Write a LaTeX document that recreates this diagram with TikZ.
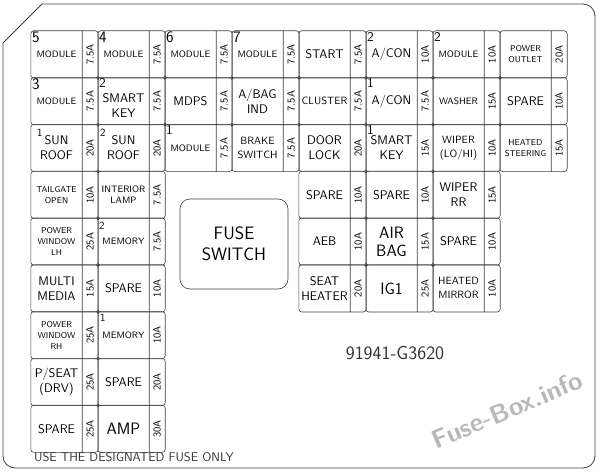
\documentclass[tikz,border=0pt]{standalone}
\usepackage{tikz}

\begin{document}
\begin{tikzpicture}[x=1pt,y=-1pt]
  \def\f{67}
  \def\fy{46.8}

\tikzstyle{cell}=[draw=black!75,line width=0.6pt,rounded corners=3pt]
\tikzstyle{fuse}=[minimum width=51pt,minimum height=\fy pt,inner sep=0pt,align=center,font=\sffamily\fontsize{9.3}{11}\selectfont]
\tikzstyle{smalltxt}=[font=\sffamily\fontsize{8.5}{11}\selectfont]
\tikzstyle{midtxt}=[font=\sffamily\fontsize{10.5}{14}\selectfont]
\tikzstyle{bigtxt}=[font=\sffamily\fontsize{12.5}{15}\selectfont]
\tikzstyle{hugetxt}=[font=\sffamily\fontsize{16.5}{18}\selectfont]
\tikzstyle{amp}=[rotate=90,inner sep=0pt,font=\sffamily\fontsize{10.5}{10.5}\selectfont]
\tikzstyle{num}=[anchor=north west,inner sep=1pt,font=\sffamily\fontsize{13.5}{13.5}\selectfont]
\tikzstyle{numbig}=[anchor=north west,inner sep=1pt,font=\sffamily\fontsize{16}{16}\selectfont]
\tikzstyle{numsm}=[anchor=north west,inner sep=1pt,font=\sffamily\fontsize{11}{11}\selectfont]
\tikzstyle{dot}=[fill=black!75]
\tikzstyle{frame}=[draw=black!75,line width=0.8pt]

\useasboundingbox (0,0) rectangle (600,473);
\draw[frame] (3,43) -- (42,4) -- (583,4) to[out=0,in=90] (595,16) -- (595,456)
  to[out=-90,in=0] (583,468) -- (15,468) to[out=180,in=-90] (3,456) -- cycle;

\node[fuse][] (F1) at (56.5+0*\f,54.4+0*\fy) {MODULE};
\node[numbig] (N1) at (F1.north west) {5};
\node[amp] (R1) at ([xshift=8pt]F1.east) {7.5A};
\draw[cell] (F1.north west) rectangle ([xshift=16pt]F1.south east) (F1.north east) -- (F1.south east);
\node[fuse][] (F2) at (56.5+1*\f,54.4+0*\fy) {MODULE};
\node[numbig] (N2) at (F2.north west) {4};
\node[amp] (R2) at ([xshift=8pt]F2.east) {7.5A};
\draw[cell] (F2.north west) rectangle ([xshift=16pt]F2.south east) (F2.north east) -- (F2.south east);
\node[fuse][] (F3) at (56.5+2*\f,54.4+0*\fy) {MODULE};
\node[numbig] (N3) at (F3.north west) {6};
\node[amp] (R3) at ([xshift=8pt]F3.east) {7.5A};
\draw[cell] (F3.north west) rectangle ([xshift=16pt]F3.south east) (F3.north east) -- (F3.south east);
\node[fuse][] (F4) at (56.5+3*\f,54.4+0*\fy) {MODULE};
\node[numbig] (N4) at (F4.north west) {7};
\node[amp] (R4) at ([xshift=8pt]F4.east) {7.5A};
\draw[cell] (F4.north west) rectangle ([xshift=16pt]F4.south east) (F4.north east) -- (F4.south east);
\node[fuse][bigtxt] (F5) at (56.5+4*\f,54.4+0*\fy) {START};
\node[amp] (R5) at ([xshift=8pt]F5.east) {7.5A};
\draw[cell] (F5.north west) rectangle ([xshift=16pt]F5.south east) (F5.north east) -- (F5.south east);
\node[fuse][bigtxt] (F6) at (56.5+5*\f,54.4+0*\fy) {A/CON};
\node[num] (N6) at (F6.north west) {2};
\node[amp] (R6) at ([xshift=8pt]F6.east) {10A};
\draw[cell] (F6.north west) rectangle ([xshift=16pt]F6.south east) (F6.north east) -- (F6.south east);
\node[fuse][] (F7) at (56.5+6*\f,54.4+0*\fy) {MODULE};
\node[num] (N7) at (F7.north west) {2};
\node[amp] (R7) at ([xshift=8pt]F7.east) {10A};
\draw[cell] (F7.north west) rectangle ([xshift=16pt]F7.south east) (F7.north east) -- (F7.south east);
\node[fuse][smalltxt] (F8) at (56.5+7*\f,54.4+0*\fy) {POWER\\OUTLET};
\node[amp] (R8) at ([xshift=8pt]F8.east) {20A};
\draw[cell] (F8.north west) rectangle ([xshift=16pt]F8.south east) (F8.north east) -- (F8.south east);

\node[fuse][] (F9) at (56.5+0*\f,54.4+1*\fy) {MODULE};
\node[numbig] (N9) at (F9.north west) {3};
\node[amp] (R9) at ([xshift=8pt]F9.east) {7.5A};
\draw[cell] (F9.north west) rectangle ([xshift=16pt]F9.south east) (F9.north east) -- (F9.south east);
\node[fuse][bigtxt] (F10) at (56.5+1*\f,58.4+1*\fy) {SMART\\KEY};
\node[num] (N10) at ([yshift=4pt]F10.north west) {2};
\node[amp] (R10) at ([xshift=8pt,yshift=4pt]F10.east) {7.5A};
\draw[cell] ([yshift=4pt]F10.north west) rectangle ([xshift=16pt,yshift=4pt]F10.south east) ([yshift=4pt]F10.north east) -- ([yshift=4pt]F10.south east);
\node[fuse][bigtxt] (F11) at (56.5+2*\f,54.4+1*\fy) {MDPS};
\node[amp] (R11) at ([xshift=8pt]F11.east) {7.5A};
\draw[cell] (F11.north west) rectangle ([xshift=16pt]F11.south east) (F11.north east) -- (F11.south east);
\node[fuse][bigtxt] (F12) at (56.5+3*\f,54.4+1*\fy) {A/BAG\\IND};
\node[amp] (R12) at ([xshift=8pt]F12.east) {7.5A};
\draw[cell] (F12.north west) rectangle ([xshift=16pt]F12.south east) (F12.north east) -- (F12.south east);
\node[fuse][midtxt] (F13) at (56.5+4*\f,54.4+1*\fy) {CLUSTER};
\node[amp] (R13) at ([xshift=8pt]F13.east) {7.5A};
\draw[cell] (F13.north west) rectangle ([xshift=16pt]F13.south east) (F13.north east) -- (F13.south east);
\node[fuse][bigtxt] (F14) at (56.5+5*\f,54.4+1*\fy) {A/CON};
\node[num] (N14) at (F14.north west) {1};
\node[amp] (R14) at ([xshift=8pt]F14.east) {7.5A};
\draw[cell] (F14.north west) rectangle ([xshift=16pt]F14.south east) (F14.north east) -- (F14.south east);
\node[fuse][] (F15) at (56.5+6*\f,54.4+1*\fy) {WASHER};
\node[amp] (R15) at ([xshift=8pt]F15.east) {15A};
\draw[cell] (F15.north west) rectangle ([xshift=16pt]F15.south east) (F15.north east) -- (F15.south east);
\node[fuse][bigtxt] (F16) at (56.5+7*\f,54.4+1*\fy) {SPARE};
\node[amp] (R16) at ([xshift=8pt]F16.east) {10A};
\draw[cell] (F16.north west) rectangle ([xshift=16pt]F16.south east) (F16.north east) -- (F16.south east);

\node[fuse][bigtxt] (F17) at (56.5+0*\f,54.4+2*\fy) {SUN\\ROOF};
\node[numsm] (N17) at ([xshift=5pt,yshift=-3pt]F17.north west) {1};
\node[amp] (R17) at ([xshift=8pt]F17.east) {20A};
\draw[cell] (F17.north west) rectangle ([xshift=16pt]F17.south east) (F17.north east) -- (F17.south east);
\node[fuse][bigtxt] (F18) at (56.5+1*\f,54.4+2*\fy) {SUN\\ROOF};
\node[numsm] (N18) at ([xshift=1pt,yshift=-3pt]F18.north west) {2};
\node[amp] (R18) at ([xshift=8pt]F18.east) {20A};
\draw[cell] (F18.north west) rectangle ([xshift=16pt]F18.south east) (F18.north east) -- (F18.south east);
\node[fuse][] (F19) at (56.5+2*\f,54.4+2*\fy) {MODULE};
\node[num] (N19) at (F19.north west) {1};
\node[amp] (R19) at ([xshift=8pt]F19.east) {7.5A};
\draw[cell] (F19.north west) rectangle ([xshift=16pt]F19.south east) (F19.north east) -- (F19.south east);
\node[fuse][midtxt] (F20) at (56.5+3*\f,54.4+2*\fy) {BRAKE\\SWITCH};
\node[amp] (R20) at ([xshift=8pt]F20.east) {7.5A};
\draw[cell] (F20.north west) rectangle ([xshift=16pt]F20.south east) (F20.north east) -- (F20.south east);
\node[fuse][bigtxt] (F21) at (56.5+4*\f,54.4+2*\fy) {DOOR\\LOCK};
\node[amp] (R21) at ([xshift=8pt]F21.east) {20A};
\draw[cell] (F21.north west) rectangle ([xshift=16pt]F21.south east) (F21.north east) -- (F21.south east);
\node[fuse][bigtxt] (F22) at (56.5+5*\f,54.4+2*\fy) {SMART\\KEY};
\node[num] (N22) at (F22.north west) {1};
\node[amp] (R22) at ([xshift=8pt]F22.east) {15A};
\draw[cell] (F22.north west) rectangle ([xshift=16pt]F22.south east) (F22.north east) -- (F22.south east);
\node[fuse][midtxt] (F23) at (56.5+6*\f,54.4+2*\fy) {WIPER\\(LO/HI)};
\node[amp] (R23) at ([xshift=8pt]F23.east) {10A};
\draw[cell] (F23.north west) rectangle ([xshift=16pt]F23.south east) (F23.north east) -- (F23.south east);
\node[fuse][smalltxt] (F24) at (56.5+7*\f,54.4+2*\fy) {HEATED\\STEERING};
\node[amp] (R24) at ([xshift=8pt]F24.east) {15A};
\draw[cell] (F24.north west) rectangle ([xshift=16pt]F24.south east) (F24.north east) -- (F24.south east);

\node[fuse][smalltxt] (F25) at (56.5+0*\f,54.4+3*\fy) {TAILGATE\\OPEN};
\node[amp] (R25) at ([xshift=8pt]F25.east) {10A};
\draw[cell] (F25.north west) rectangle ([xshift=16pt]F25.south east) (F25.north east) -- (F25.south east);
\node[fuse][] (F26) at (56.5+1*\f,54.4+3*\fy) {INTERIOR\\LAMP};
\node[amp] (R26) at ([xshift=8pt]F26.east) {7.5A};
\draw[cell] (F26.north west) rectangle ([xshift=16pt]F26.south east) (F26.north east) -- (F26.south east);
\node[fuse][bigtxt] (F27) at (56.5+4*\f,54.4+3*\fy) {SPARE};
\node[amp] (R27) at ([xshift=8pt]F27.east) {10A};
\draw[cell] (F27.north west) rectangle ([xshift=16pt]F27.south east) (F27.north east) -- (F27.south east);
\node[fuse][bigtxt] (F28) at (56.5+5*\f,54.4+3*\fy) {SPARE};
\node[amp] (R28) at ([xshift=8pt]F28.east) {10A};
\draw[cell] (F28.north west) rectangle ([xshift=16pt]F28.south east) (F28.north east) -- (F28.south east);
\node[fuse][bigtxt] (F29) at (56.5+6*\f,54.4+3*\fy) {WIPER\\RR};
\node[amp] (R29) at ([xshift=8pt]F29.east) {15A};
\draw[cell] (F29.north west) rectangle ([xshift=16pt]F29.south east) (F29.north east) -- (F29.south east);

\node[fuse][smalltxt] (F30) at (56.5+0*\f,54.4+4*\fy) {POWER\\WINDOW\\LH};
\node[amp] (R30) at ([xshift=8pt]F30.east) {25A};
\draw[cell] (F30.north west) rectangle ([xshift=16pt]F30.south east) (F30.north east) -- (F30.south east);
\node[fuse][] (F31) at (56.5+1*\f,54.4+4*\fy) {MEMORY};
\node[numsm] (N31) at ([yshift=-3pt]F31.north west) {2};
\node[amp] (R31) at ([xshift=8pt]F31.east) {7.5A};
\draw[cell] (F31.north west) rectangle ([xshift=16pt]F31.south east) (F31.north east) -- (F31.south east);
\node[fuse][bigtxt] (F32) at (56.5+4*\f,54.4+4*\fy) {AEB};
\node[amp] (R32) at ([xshift=8pt]F32.east) {10A};
\draw[cell] (F32.north west) rectangle ([xshift=16pt]F32.south east) (F32.north east) -- (F32.south east);
\node[fuse][hugetxt] (F33) at (56.5+5*\f,54.4+4*\fy) {AIR\\BAG};
\node[amp] (R33) at ([xshift=8pt]F33.east) {15A};
\draw[cell] (F33.north west) rectangle ([xshift=16pt]F33.south east) (F33.north east) -- (F33.south east);
\node[fuse][bigtxt] (F34) at (56.5+6*\f,54.4+4*\fy) {SPARE};
\node[amp] (R34) at ([xshift=8pt]F34.east) {10A};
\draw[cell] (F34.north west) rectangle ([xshift=16pt]F34.south east) (F34.north east) -- (F34.south east);

\node[fuse][bigtxt] (F35) at (56.5+0*\f,54.4+5*\fy) {MULTI\\MEDIA};
\node[amp] (R35) at ([xshift=8pt]F35.east) {15A};
\draw[cell] (F35.north west) rectangle ([xshift=16pt]F35.south east) (F35.north east) -- (F35.south east);
\node[fuse][bigtxt] (F36) at (56.5+1*\f,54.4+5*\fy) {SPARE};
\node[amp] (R36) at ([xshift=8pt]F36.east) {10A};
\draw[cell] (F36.north west) rectangle ([xshift=16pt]F36.south east) (F36.north east) -- (F36.south east);
\node[fuse][bigtxt] (F37) at (56.5+4*\f,54.4+5*\fy) {SEAT\\HEATER};
\node[amp] (R37) at ([xshift=8pt]F37.east) {20A};
\draw[cell] (F37.north west) rectangle ([xshift=16pt]F37.south east) (F37.north east) -- (F37.south east);
\node[fuse][hugetxt] (F38) at (56.5+5*\f,54.4+5*\fy) {IG1};
\node[amp] (R38) at ([xshift=8pt]F38.east) {25A};
\draw[cell] (F38.north west) rectangle ([xshift=16pt]F38.south east) (F38.north east) -- (F38.south east);
\node[fuse][midtxt] (F39) at (56.5+6*\f,54.4+5*\fy) {HEATED\\MIRROR};
\node[amp] (R39) at ([xshift=8pt]F39.east) {10A};
\draw[cell] (F39.north west) rectangle ([xshift=16pt]F39.south east) (F39.north east) -- (F39.south east);

\node[fuse][smalltxt] (F40) at (56.5+0*\f,54.4+6*\fy) {POWER\\WINDOW\\RH};
\node[amp] (R40) at ([xshift=8pt]F40.east) {25A};
\draw[cell] (F40.north west) rectangle ([xshift=16pt]F40.south east) (F40.north east) -- (F40.south east);
\node[fuse][] (F41) at (56.5+1*\f,54.4+6*\fy) {MEMORY};
\node[numsm] (N41) at ([xshift=1pt,yshift=-1pt]F41.north west) {1};
\node[amp] (R41) at ([xshift=8pt]F41.east) {10A};
\draw[cell] (F41.north west) rectangle ([xshift=16pt]F41.south east) (F41.north east) -- (F41.south east);

\node[fuse][bigtxt] (F42) at (56.5+0*\f,54.4+7*\fy) {P/SEAT\\(DRV)};
\node[amp] (R42) at ([xshift=8pt]F42.east) {25A};
\draw[cell] (F42.north west) rectangle ([xshift=16pt]F42.south east) (F42.north east) -- (F42.south east);
\node[fuse][bigtxt] (F43) at (56.5+1*\f,54.4+7*\fy) {SPARE};
\node[amp] (R43) at ([xshift=8pt]F43.east) {20A};
\draw[cell] (F43.north west) rectangle ([xshift=16pt]F43.south east) (F43.north east) -- (F43.south east);

\node[fuse][bigtxt] (F44) at (56.5+0*\f,54.4+8*\fy) {SPARE};
\node[amp] (R44) at ([xshift=8pt]F44.east) {25A};
\draw[cell] (F44.north west) rectangle ([xshift=16pt]F44.south east) (F44.north east) -- (F44.south east);
\node[fuse][hugetxt] (F45) at (56.5+1*\f,54.4+8*\fy) {AMP};
\node[amp] (R45) at ([xshift=8pt]F45.east) {30A};
\draw[cell] (F45.north west) rectangle ([xshift=16pt]F45.south east) (F45.north east) -- (F45.south east);

\fill[dot] ([xshift=16pt]F1.south east) circle (1.3);
\fill[dot] ([xshift=16pt]F2.south east) circle (1.3);
\fill[dot] ([xshift=16pt]F3.south east) circle (1.3);
\fill[dot] ([xshift=16pt]F4.south east) circle (1.3);
\fill[dot] ([xshift=16pt]F5.south east) circle (1.3);
\fill[dot] ([xshift=16pt]F6.south east) circle (1.3);
\fill[dot] ([xshift=16pt]F7.south east) circle (1.3);
\fill[dot] ([xshift=16pt]F9.south east) circle (1.3);
\fill[dot] ([xshift=16pt]F11.south east) circle (1.3);
\fill[dot] ([xshift=16pt]F12.south east) circle (1.3);
\fill[dot] ([xshift=16pt]F13.south east) circle (1.3);
\fill[dot] ([xshift=16pt]F14.south east) circle (1.3);
\fill[dot] ([xshift=16pt]F15.south east) circle (1.3);
\fill[dot] ([xshift=16pt]F9.south east) ++(67,0) circle (1.3);
\fill[dot] ([xshift=16pt]F17.south east) circle (1.3);
\fill[dot] ([xshift=16pt]F21.south east) circle (1.3);
\fill[dot] ([xshift=16pt]F22.south east) circle (1.3);
\fill[dot] ([xshift=16pt]F25.south east) circle (1.3);
\fill[dot] ([xshift=16pt]F27.south east) circle (1.3);
\fill[dot] ([xshift=16pt]F28.south east) circle (1.3);
\fill[dot] ([xshift=16pt]F30.south east) circle (1.3);
\fill[dot] ([xshift=16pt]F32.south east) circle (1.3);
\fill[dot] ([xshift=16pt]F33.south east) circle (1.3);
\fill[dot] ([xshift=16pt]F35.south east) circle (1.3);
\fill[dot] ([xshift=16pt]F40.south east) circle (1.3);
\fill[dot] ([xshift=16pt]F42.south east) circle (1.3);

\node[draw=black!75,line width=0.6pt,rounded corners=10pt,minimum width=108pt,minimum height=90pt,align=center,font=\sffamily\fontsize{18}{21}\selectfont] (FS) at (234,244) {FUSE\\SWITCH};
\node[font=\sffamily\fontsize{19}{19}\selectfont,text=black!80] (PN) at (395,353) {91941-G3620};
\node[anchor=base west,inner sep=0pt,font=\sffamily\fontsize{12.6}{12.6}\selectfont,text=black!80] (UT) at (34,461) {USE THE DESIGNATED FUSE ONLY};
\node[rotate=23,text=black!28,font=\sffamily\bfseries\fontsize{26}{26}\selectfont] (WM) at (507,410) {Fuse-Box.info};
\end{tikzpicture}
\end{document}
